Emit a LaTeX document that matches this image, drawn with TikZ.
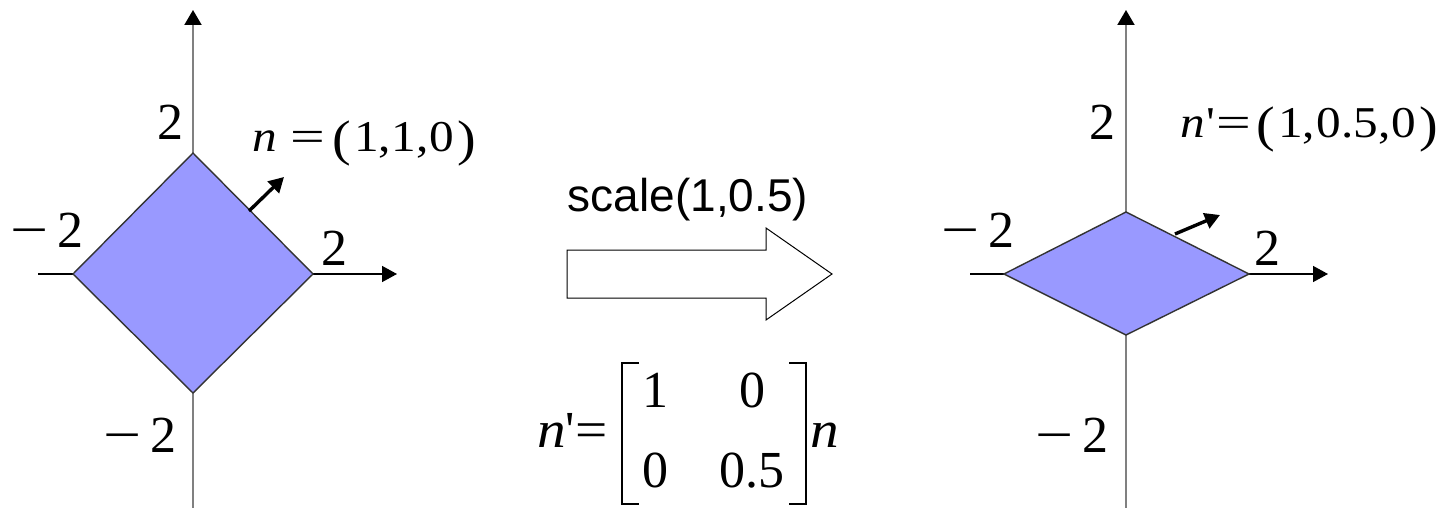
\documentclass[tikz,border=0pt]{standalone}
\usepackage{fontspec}
\setmainfont{Liberation Serif}
\newfontfamily\arialfont{Liberation Sans}
\usetikzlibrary{arrows.meta}
\definecolor{polyfill}{HTML}{9999FF}
\definecolor{axisgray}{HTML}{808080}
\definecolor{edgegray}{HTML}{333333}
% stretched equation labels
\newcommand{\eqlbl}[1]{\scalebox{1.12}[1]{\fontsize{22}{24}\selectfont #1}}
\newcommand{\bparen}[1]{\raisebox{-1.8pt}{\fontsize{25}{27}\selectfont #1}}
\newcommand{\weq}{\scalebox{1.25}[1]{=}}
\newcommand{\mns}{\scalebox{1.3}[1]{−}\kern0.18em}
\begin{document}
\begin{tikzpicture}[x=0.5pt,y=-0.5pt,
  lbl/.style={inner sep=0pt, font=\fontsize{26}{30}\selectfont},
  sanslbl/.style={inner sep=0pt, font=\arialfont\fontsize{23}{28}\selectfont},
  vaxis/.style={draw=axisgray, line width=1pt, -{Triangle[length=7.5pt,width=8.5pt,color=black]}},
  haxis/.style={draw=black, line width=0.75pt, -{Triangle[length=7.5pt,width=8pt]}},
  poly/.style={fill=polyfill, draw=edgegray, line width=0.7pt, line join=miter},
  normalvec/.style={draw=black, line width=1.7pt, -{Triangle[length=7.5pt,width=8pt]}},
  bracket/.style={draw=black, line width=0.8pt},
  blockarrow/.style={draw=black, line width=0.5pt, fill=white, line join=miter}
]
\fill[white] (0,0) rectangle (1441,508);
\useasboundingbox (0,0) rectangle (1441,508);

% ---------- left panel ----------
\coordinate (LyB) at (193,508);
\coordinate (LyT) at (193,10);
\coordinate (LxL) at (38,274);
\coordinate (LxR) at (397,274);
\coordinate (Ltop) at (193,153);
\coordinate (Lright) at (313,274);
\coordinate (Lbot) at (193,393);
\coordinate (Lleft) at (73,274);
\coordinate (Ln0) at (249,211);
\coordinate (Ln1) at (284,177);

\draw[vaxis] (LyB) -- (LyT);
\draw[haxis] (LxL) -- (LxR);
\path[poly] (Ltop) -- (Lright) -- (Lbot) -- (Lleft) -- cycle;
\draw[normalvec] (Ln0) -- (Ln1);

\node[lbl, anchor=base] (L2t) at (170,140) {2};
\node[anchor=base west, inner sep=0pt] (Lnlab) at (252,152)
  {\eqlbl{\textit{n}\kern0.28em\weq\kern0.14em\bparen{(}\kern0.06em 1,\kern0.02em 1,\kern0.02em 0\kern0.06em\bparen{)}}};
\node[lbl, anchor=base east] (Lm2l) at (84,248) {\mns 2};
\node[lbl, anchor=base] (L2r) at (334,265) {2};
\node[lbl, anchor=base east] (Lm2b) at (177,452) {\mns 2};

% ---------- middle ----------
\node[sanslbl, anchor=base] (scl) at (688,212) {scale(1,0.5)};
\coordinate (A1) at (567,250);
\coordinate (A2) at (766,250);
\coordinate (A3) at (766,228);
\coordinate (A4) at (832,274);
\coordinate (A5) at (766,320);
\coordinate (A6) at (766,298);
\coordinate (A7) at (567,298);
\path[blockarrow] (A1) -- (A2) -- (A3) -- (A4) -- (A5) -- (A6) -- (A7) -- cycle;

\node[lbl, anchor=base east] (mlhs) at (608,447) {\scalebox{1.1}[1]{\textit{n}}\textquotesingle\scalebox{1.1}[1]{=}};
\coordinate (BLa) at (639,363);
\coordinate (BLb) at (622,363);
\coordinate (BLc) at (622,504);
\coordinate (BLd) at (639,504);
\coordinate (BRa) at (789,363);
\coordinate (BRb) at (806,363);
\coordinate (BRc) at (806,504);
\coordinate (BRd) at (789,504);
\draw[bracket] (BLa) -- (BLb) -- (BLc) -- (BLd);
\draw[bracket] (BRa) -- (BRb) -- (BRc) -- (BRd);
\node[lbl, anchor=base] (m11) at (655,407) {1};
\node[lbl, anchor=base] (m12) at (752,407) {0};
\node[lbl, anchor=base] (m21) at (655,487) {0};
\node[lbl, anchor=base] (m22) at (752,487) {0.5};
\node[lbl, anchor=base west] (mrhs) at (810,447) {\scalebox{1.1}[1]{\textit{n}}};

% ---------- right panel ----------
\coordinate (RyB) at (1126,508);
\coordinate (RyT) at (1126,10);
\coordinate (RxL) at (970,274);
\coordinate (RxR) at (1328,274);
\coordinate (Rtop) at (1126,212);
\coordinate (Rright) at (1249,274);
\coordinate (Rbot) at (1126,335);
\coordinate (Rleft) at (1004,274);
\coordinate (Rn0) at (1175,234);
\coordinate (Rn1) at (1220,215);

\draw[vaxis] (RyB) -- (RyT);
\draw[haxis] (RxL) -- (RxR);
\path[poly] (Rtop) -- (Rright) -- (Rbot) -- (Rleft) -- cycle;
\draw[normalvec] (Rn0) -- (Rn1);

\node[lbl, anchor=base] (R2t) at (1102,140) {2};
\node[anchor=base west, inner sep=0pt] (Rnlab) at (1180,138)
  {\eqlbl{\textit{n}\kern0.03em\textquotesingle\kern0.03em\weq\kern0.1em\bparen{(}\kern0.06em 1,\kern0.03em 0.5,\kern0.03em 0\kern0.06em\bparen{)}}};
\node[lbl, anchor=base east] (Rm2l) at (1015,248) {\mns 2};
\node[lbl, anchor=base] (R2r) at (1267,265) {2};
\node[lbl, anchor=base east] (Rm2b) at (1109,452) {\mns 2};
\end{tikzpicture}
\end{document}
